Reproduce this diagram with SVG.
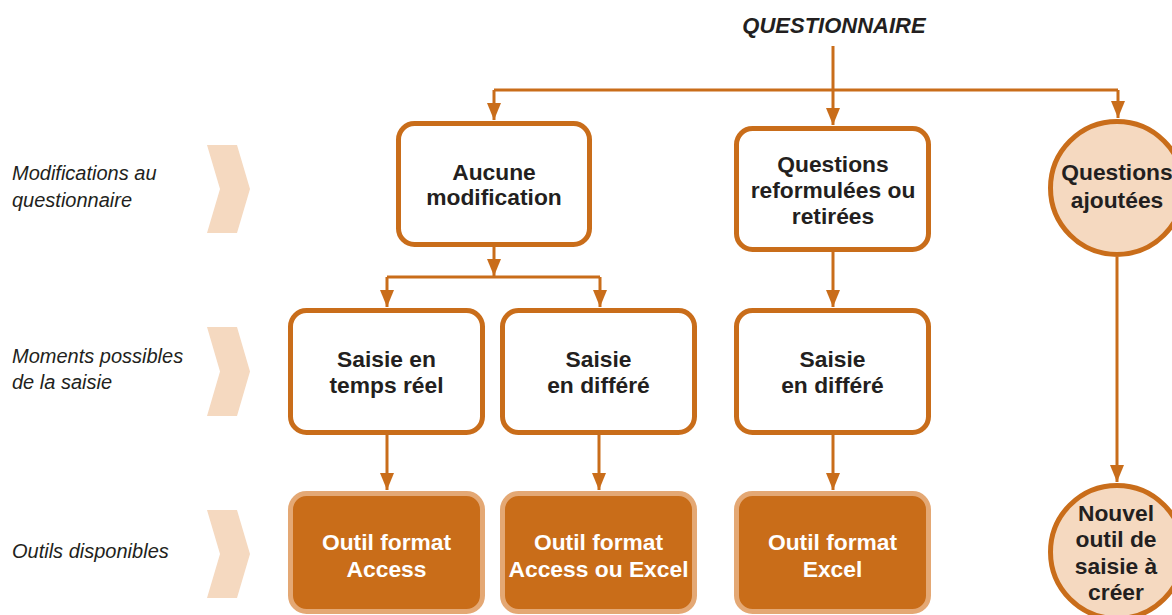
<svg xmlns="http://www.w3.org/2000/svg" width="1172" height="615" viewBox="0 0 1172 615">
<style>
.line{fill:none;stroke:#C96D1A;stroke-width:3}
.box{fill:#FFFFFF;stroke:#C96D1A;stroke-width:5}
.tool{fill:#C96D19;stroke:#E4A874;stroke-width:5}
.circ{fill:#F5D9C0;stroke:#C96D1A;stroke-width:5}
.chev{fill:#F5D9C0}
.t{font-family:"Liberation Sans",Arial,sans-serif;font-weight:bold;font-size:22.8px;fill:#231F20;text-anchor:middle}
.w{fill:#FFFFFF}
.lab{font-family:"Liberation Sans",Arial,sans-serif;font-style:italic;font-size:20px;fill:#231F20}
.title{font-family:"Liberation Sans",Arial,sans-serif;font-style:italic;font-weight:bold;font-size:22px;fill:#231F20;text-anchor:middle}
</style>
<defs>
<marker id="arr" markerUnits="userSpaceOnUse" markerWidth="18" markerHeight="14" refX="17" refY="7" orient="auto">
<path d="M0,0 L17,7 L0,14 z" fill="#C96D1A"/>
</marker>
</defs>
<rect width="1172" height="615" fill="#FFFFFF"/>
<g id="labels">
<text class="title" x="834" y="33">QUESTIONNAIRE</text>
<text class="lab" x="12" y="180">Modifications au</text>
<text class="lab" x="12" y="207">questionnaire</text>
<text class="lab" x="12" y="363">Moments possibles</text>
<text class="lab" x="12" y="389">de la saisie</text>
<text class="lab" x="12" y="558">Outils disponibles</text>
<polygon class="chev" points="207,145 237,145 250,189 237,233 207,233 220,189"/>
<polygon class="chev" points="207,327 237,327 250,371.5 237,416 207,416 220,371.5"/>
<polygon class="chev" points="207,510 237,510 250,554 237,598 207,598 220,554"/>
</g>
<g id="connectors">
<path class="line" d="M833,46 V90"/>
<path class="line" d="M494,90 H1118"/>
<path class="line" d="M494,90 V120" marker-end="url(#arr)"/>
<path class="line" d="M833,90 V125" marker-end="url(#arr)"/>
<path class="line" d="M1118,90 V118" marker-end="url(#arr)"/>
<path class="line" d="M494,247 V276" marker-end="url(#arr)"/>
<path class="line" d="M387,277 H600"/>
<path class="line" d="M387,277 V307" marker-end="url(#arr)"/>
<path class="line" d="M600,277 V307" marker-end="url(#arr)"/>
<path class="line" d="M833,252 V307" marker-end="url(#arr)"/>
<path class="line" d="M387,435 V490" marker-end="url(#arr)"/>
<path class="line" d="M599,435 V490" marker-end="url(#arr)"/>
<path class="line" d="M833,435 V490" marker-end="url(#arr)"/>
<path class="line" d="M1117,257 V482" marker-end="url(#arr)"/>
</g>
<g id="n-aucune">
<rect class="box" x="398.5" y="123.5" width="191" height="121" rx="16"/>
<text class="t" x="494" y="180">Aucune</text>
<text class="t" x="494" y="205">modification</text>
</g>
<g id="n-reformulees">
<rect class="box" x="736.5" y="128.5" width="192" height="121" rx="16"/>
<text class="t" x="833" y="172">Questions</text>
<text class="t" x="833" y="198">reformulées ou</text>
<text class="t" x="833" y="224">retirées</text>
</g>
<g id="n-ajoutees">
<circle class="circ" cx="1117" cy="188" r="66.5"/>
<text class="t" x="1117" y="180">Questions</text>
<text class="t" x="1117" y="208">ajoutées</text>
</g>
<g id="n-temps-reel">
<rect class="box" x="290.5" y="310.5" width="192" height="122" rx="16"/>
<text class="t" x="386.5" y="367">Saisie en</text>
<text class="t" x="386.5" y="393">temps réel</text>
</g>
<g id="n-differe-1">
<rect class="box" x="502.5" y="310.5" width="192" height="122" rx="16"/>
<text class="t" x="598.5" y="367">Saisie</text>
<text class="t" x="598.5" y="393">en différé</text>
</g>
<g id="n-differe-2">
<rect class="box" x="736.5" y="310.5" width="192" height="122" rx="16"/>
<text class="t" x="832.5" y="367">Saisie</text>
<text class="t" x="832.5" y="393">en différé</text>
</g>
<g id="n-access">
<rect class="tool" x="290.5" y="493.5" width="192" height="118" rx="16"/>
<text class="t w" x="386.5" y="550">Outil format</text>
<text class="t w" x="386.5" y="577">Access</text>
</g>
<g id="n-access-excel">
<rect class="tool" x="502.5" y="493.5" width="192" height="118" rx="16"/>
<text class="t w" x="598.5" y="550">Outil format</text>
<text class="t w" x="598.5" y="577">Access ou Excel</text>
</g>
<g id="n-excel">
<rect class="tool" x="736.5" y="493.5" width="192" height="118" rx="16"/>
<text class="t w" x="832.5" y="550">Outil format</text>
<text class="t w" x="832.5" y="577">Excel</text>
</g>
<g id="n-nouvel">
<circle class="circ" cx="1117" cy="552" r="66.5"/>
<text class="t" x="1116" y="521">Nouvel</text>
<text class="t" x="1116" y="547">outil de</text>
<text class="t" x="1116" y="573.5">saisie à</text>
<text class="t" x="1116" y="600">créer</text>
</g>
</svg>
